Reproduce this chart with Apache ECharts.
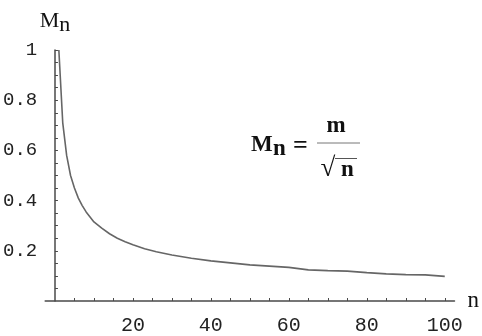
<!DOCTYPE html>
<html>
<head>
<meta charset="utf-8">
<script src="https://cdn.jsdelivr.net/npm/echarts@6.0.0/dist/echarts.min.js"></script>
<style>
  html, body { margin: 0; padding: 0; background: #fff; }
  #chart { width: 482px; height: 336px; }
</style>
</head>
<body>
<div id="chart"></div>
<script>
// values: M_n against n
const nValues = [1, 2, 3, 4, 5, 6, 7, 8, 9, 10, 12, 14, 16, 18, 20, 23, 26, 30, 35, 40, 45, 50, 55, 60, 65, 70, 75, 80, 85, 90, 95, 100]
const mValues = [1.0, 0.71, 0.58, 0.5, 0.45, 0.41, 0.38, 0.355, 0.335, 0.315, 0.29, 0.268, 0.25, 0.236, 0.224, 0.208, 0.196, 0.183, 0.17, 0.16, 0.152, 0.144, 0.139, 0.134, 0.124, 0.121, 0.119, 0.113, 0.108, 0.105, 0.104, 0.098]

const xLabels = [20, 40, 60, 80, 100]
const xTicks = [5, 10, 15, 20, 25, 30, 35, 40, 45, 50, 55, 60, 65, 70, 75, 80, 85, 90, 95, 100]
const yLabels = [0.2, 0.4, 0.6, 0.8, 1]
const yTicks = [0.05, 0.1, 0.15, 0.2, 0.25, 0.3, 0.35, 0.4, 0.45, 0.5, 0.55, 0.6, 0.65, 0.7, 0.75, 0.8, 0.85, 0.9, 0.95, 1]

const tickFont = "Liberation Mono"
const mathFont = "Liberation Serif"
const axisColor = "#4a4a4a"

const chart = echarts.init(document.getElementById("chart"), null, { renderer: "canvas" })

const formulaText = (text, x, y, align, size) => ({
  type: "text",
  x, y,
  style: {
    text,
    fontFamily: mathFont,
    fontWeight: "bold",
    fontSize: size || 22,
    fill: "#111",
    align: align || "left",
    verticalAlign: "middle"
  }
})

chart.setOption({
  animation: false,
  grid: { left: 45, right: 27, top: 50, bottom: 32 },
  xAxis: {
    type: "value",
    min: -2.5,
    max: 102.5,
    name: "n",
    nameLocation: "end",
    nameGap: 13,
    nameTextStyle: { fontFamily: mathFont, fontSize: 23, color: "#111", padding: [0, 0, 0, 0] },
    axisLine: { onZero: true, lineStyle: { color: axisColor, width: 1.5 } },
    axisTick: { inside: true, length: 3, customValues: xTicks, lineStyle: { color: axisColor } },
    axisLabel: { customValues: xLabels, margin: 15, fontFamily: tickFont, fontSize: 20, color: "#222" },
    splitLine: { show: false }
  },
  yAxis: {
    type: "value",
    min: 0,
    max: 1,
    name: "M{s|n}",
    nameLocation: "end",
    nameGap: 14,
    nameTextStyle: {
      fontFamily: mathFont, fontSize: 22, color: "#111",
      rich: { s: { fontFamily: mathFont, fontSize: 22, color: "#111", padding: [8, 0, 0, 0] } }
    },
    axisLine: { onZero: true, lineStyle: { color: axisColor, width: 1.5 } },
    axisTick: { inside: true, length: 3, customValues: yTicks, lineStyle: { color: axisColor } },
    axisLabel: { customValues: yLabels, margin: 8, fontFamily: tickFont, fontSize: 19, color: "#222" },
    splitLine: { show: false }
  },
  series: [{
    type: "line",
    data: nValues.map((n, i) => [n, mValues[i]]),
    showSymbol: false,
    smooth: false,
    lineStyle: { color: "#666", width: 1.6 }
  }],
  graphic: [
    formulaText("M", 251, 145, "left", 23),
    formulaText("n", 273, 149, "left", 23),
    formulaText("=", 300.5, 146, "center", 26),
    formulaText("m", 336, 126, "center", 23),
    { type: "line", shape: { x1: 317, y1: 143, x2: 360, y2: 143 }, style: { stroke: "#777", lineWidth: 1 } },
    formulaText("\u221A", 328, 169, "center", 27),
    { type: "line", shape: { x1: 335, y1: 158.5, x2: 357, y2: 158.5 }, style: { stroke: "#555", lineWidth: 1 } },
    formulaText("n", 347.5, 170, "center", 23)
  ]
})
</script>
</body>
</html>
